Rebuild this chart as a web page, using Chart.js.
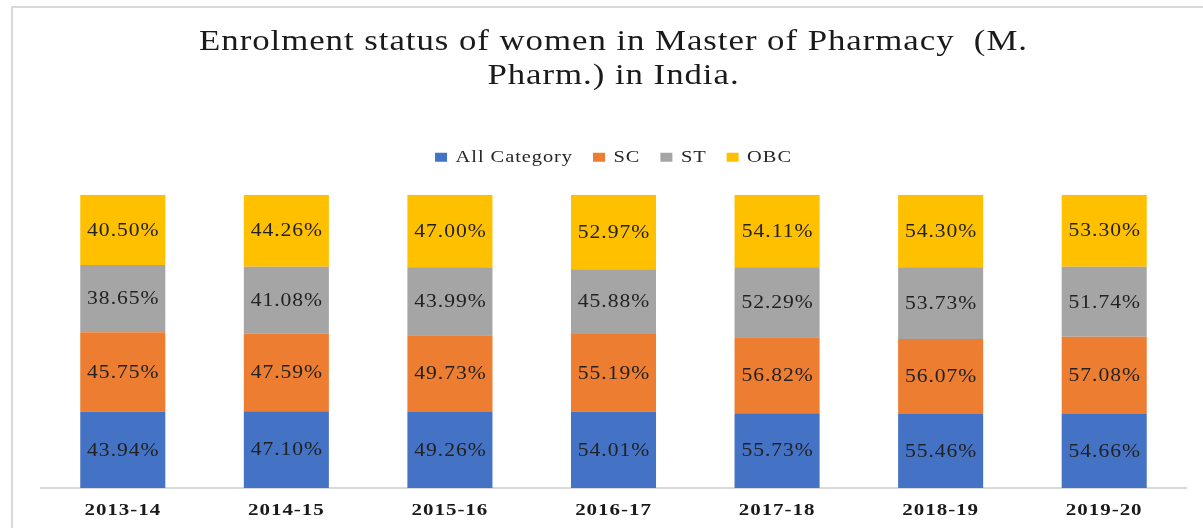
<!DOCTYPE html>
<html>
<head>
<meta charset="utf-8">
<script src="https://cdn.jsdelivr.net/npm/chart.js@4.4.1/dist/chart.umd.min.js"></script>
<style>
    html, body { margin: 0; padding: 0; background: #fff; overflow: hidden; }
    .frame { position: absolute; left: 11px; top: 6px; width: 1300px; height: 600px; border: 2px solid #d9d9d9; }
    .chart-wrap { position: absolute; left: 0; top: 0; width: 1203px; height: 528px; }
</style>
</head>
<body>
<div class="frame"></div>
<div class="chart-wrap"><canvas id="enrolChart"></canvas></div>
<script>
const years = ['2013-14', '2014-15', '2015-16', '2016-17', '2017-18', '2018-19', '2019-20'];
const allCategory = [43.94, 47.10, 49.26, 54.01, 55.73, 55.46, 54.66];
const scValues = [45.75, 47.59, 49.73, 55.19, 56.82, 56.07, 57.08];
const stValues = [38.65, 41.08, 43.99, 45.88, 52.29, 53.73, 51.74];
const obcValues = [40.50, 44.26, 47.00, 52.97, 54.11, 54.30, 53.30];

const seriesList = [
    { label: 'All Category', data: allCategory, color: '#4472C4' },
    { label: 'SC', data: scValues, color: '#ED7D31' },
    { label: 'ST', data: stValues, color: '#A5A5A5' },
    { label: 'OBC', data: obcValues, color: '#FFC000' }
];

// 100% stacked: each bar shows the share of the column total
const totals = years.map((_, i) => seriesList.reduce((s, d) => s + d.data[i], 0));

const serif = "'Liberation Serif', 'DejaVu Serif', serif";

// the source picture is stretched sideways, so text is drawn a bit wider and looser
const STRETCH = 1.2;
const SPACING = '0.8px';
const wideText = {
    id: 'wideText',
    beforeInit(chart) {
        const ctx = chart.ctx;
        const proto = CanvasRenderingContext2D.prototype;
        ctx.fillText = function (t, x, y) {
            this.save();
            this.translate(x, y);
            this.scale(STRETCH, 1);
            proto.fillText.call(this, t, 0, 0);
            this.restore();
        };
        ctx.measureText = function (t) {
            const m = proto.measureText.call(this, t);
            return {
                width: m.width * STRETCH,
                actualBoundingBoxAscent: m.actualBoundingBoxAscent,
                actualBoundingBoxDescent: m.actualBoundingBoxDescent,
                actualBoundingBoxLeft: m.actualBoundingBoxLeft * STRETCH,
                actualBoundingBoxRight: m.actualBoundingBoxRight * STRETCH
            };
        };
    },
    beforeLayout(chart) { chart.ctx.letterSpacing = SPACING; },
    beforeDraw(chart) { chart.ctx.letterSpacing = SPACING; }
};

// extra gap between legend and bars
const legendGap = {
    id: 'legendGap',
    beforeInit(chart) {
        const origFit = chart.legend.fit;
        chart.legend.fit = function () {
            origFit.call(this);
            this.height += 19;
        };
    }
};

// draw the original value inside each segment
const segmentLabels = {
    id: 'segmentLabels',
    afterDatasetsDraw(chart) {
        const ctx = chart.ctx;
        ctx.save();
        ctx.font = `18px ${serif}`;
        ctx.letterSpacing = SPACING;
        ctx.fillStyle = '#222';
        ctx.textAlign = 'center';
        ctx.textBaseline = 'middle';
        chart.data.datasets.forEach((ds, di) => {
            chart.getDatasetMeta(di).data.forEach((bar, i) => {
                const midY = (bar.y + bar.base) / 2;
                ctx.fillText(ds.rawValues[i].toFixed(2) + '%', bar.x + 0.5, midY + 1);
            });
        });
        ctx.restore();
    }
};

new Chart(document.getElementById('enrolChart'), {
    type: 'bar',
    data: {
        labels: years,
        datasets: seriesList.map(s => ({
            label: s.label,
            data: s.data.map((v, i) => v / totals[i] * 100),
            rawValues: s.data,
            backgroundColor: s.color,
            borderWidth: 0,
            categoryPercentage: 1,
            barPercentage: 0.52
        }))
    },
    options: {
        responsive: true, maintainAspectRatio: false,
        animation: false,
        layout: { padding: { left: 41, right: 17, top: 26, bottom: 3 } },
        plugins: {
            title: {
                display: true,
                text: ['Enrolment status of women in Master of Pharmacy  (M.', 'Pharm.) in India.'],
                font: { family: serif, size: 29, weight: 'normal', lineHeight: 1.15 },
                color: '#1a1a1a',
                padding: { top: 0, bottom: 36 }
            },
            legend: {
                position: 'top',
                labels: {
                    font: { family: serif, size: 17 },
                    color: '#262626',
                    boxWidth: 12,
                    boxHeight: 9,
                    padding: 20
                }
            },
            tooltip: { enabled: false }
        },
        scales: {
            x: {
                stacked: true,
                grid: { display: false },
                border: { display: true, color: '#d9d9d9', width: 2 },
                ticks: { font: { family: serif, size: 17.5, weight: 'bold' }, color: '#1a1a1a', padding: 4 }
            },
            y: {
                stacked: true,
                display: false,
                min: 0,
                max: 100
            }
        }
    },
    plugins: [wideText, legendGap, segmentLabels]
});
</script>
</body>
</html>
